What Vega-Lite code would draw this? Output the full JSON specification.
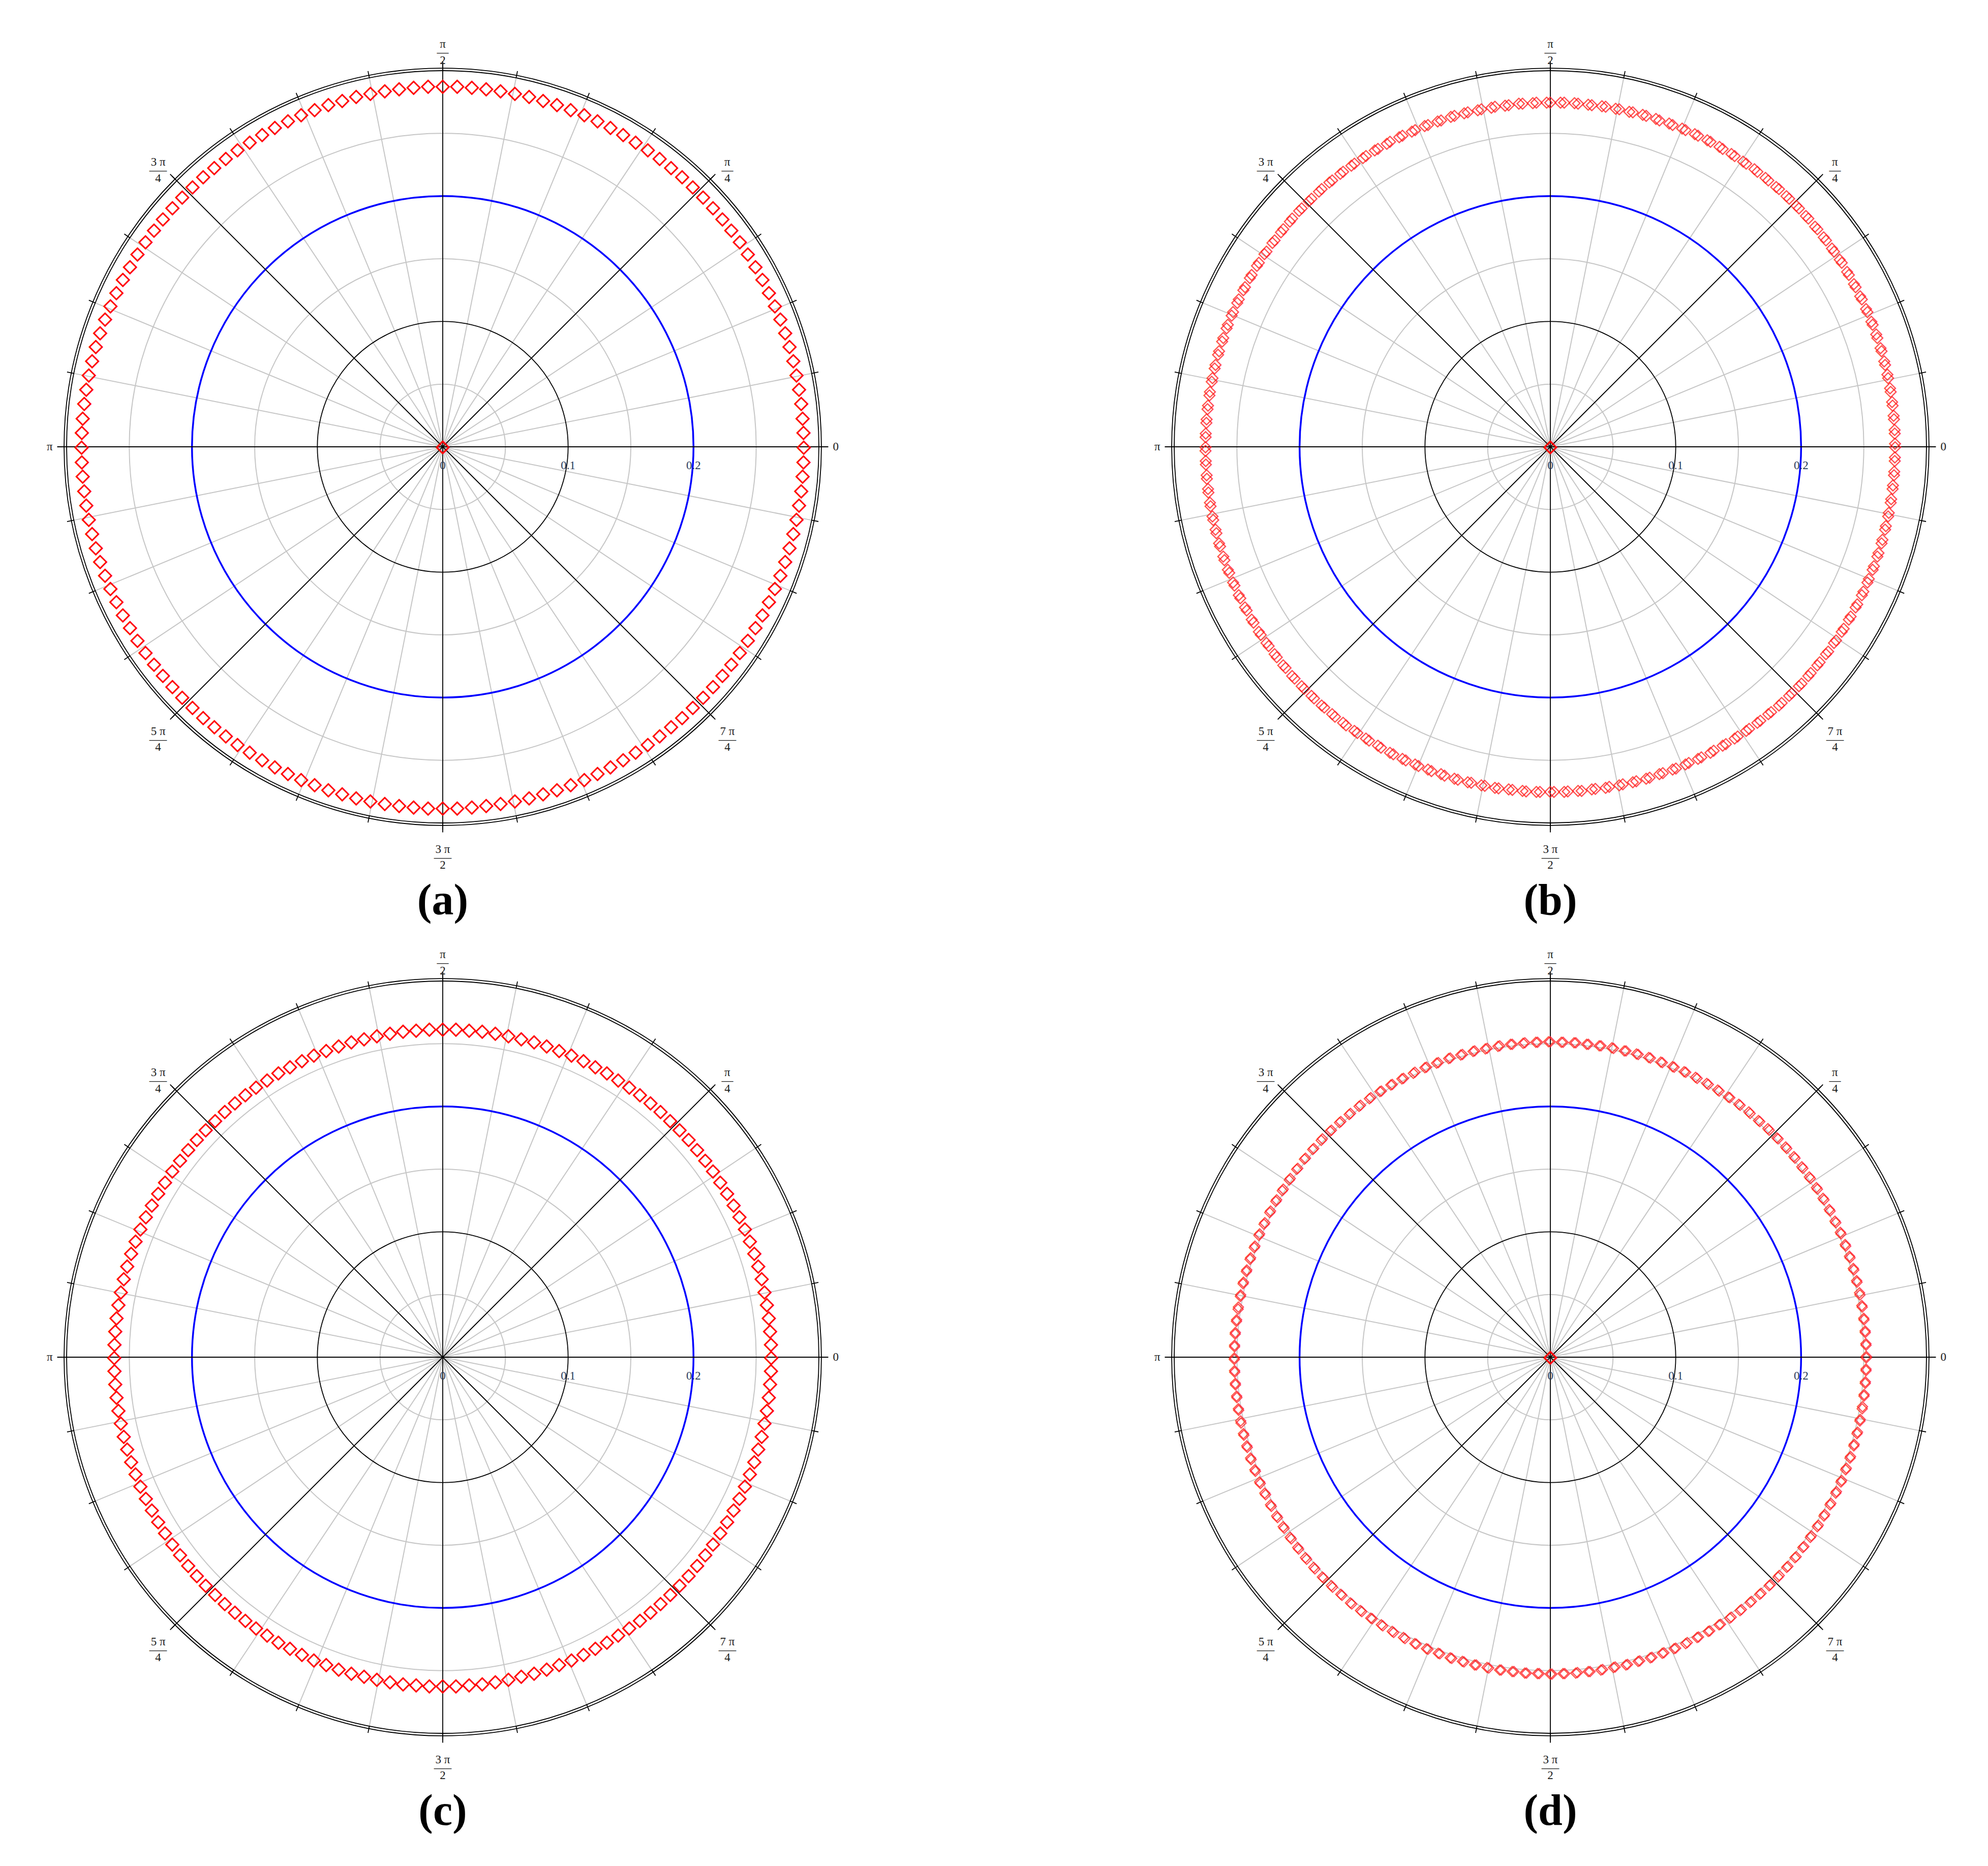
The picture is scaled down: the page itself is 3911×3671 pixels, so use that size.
{
"$schema": "https://vega.github.io/schema/vega-lite/v6.json",
"padding": 0,
"background": "white",
"config": {"view": {"stroke": null}, "title": {"orient": "bottom", "frame": "group", "anchor": "middle", "offset": -27, "font": "Liberation Serif", "fontSize": 86, "fontWeight": "bold", "color": "#000000"}},
"datasets": {
"gc": [{"r":0.05},{"r":0.15},{"r":0.25}],
"bc": [{"r":0.1},{"r":0.2},{"r":0.3},{"r":0.302}],
"blue": [{"r":0.2}],
"g32": [{"t":0},{"t":11.25},{"t":22.5},{"t":33.75},{"t":45},{"t":56.25},{"t":67.5},{"t":78.75},{"t":90},{"t":101.25},{"t":112.5},{"t":123.75},{"t":135},{"t":146.25},{"t":157.5},{"t":168.75},{"t":180},{"t":191.25},{"t":202.5},{"t":213.75},{"t":225},{"t":236.25},{"t":247.5},{"t":258.75},{"t":270},{"t":281.25},{"t":292.5},{"t":303.75},{"t":315},{"t":326.25},{"t":337.5},{"t":348.75}],
"ax8": [{"t":0},{"t":45},{"t":90},{"t":135},{"t":180},{"t":225},{"t":270},{"t":315}],
"flab": [{"t":45,"lab":"π\n—\n4"},{"t":90,"lab":"π\n—\n2"},{"t":135,"lab":"3 π\n—–\n4"},{"t":225,"lab":"5 π\n—–\n4"},{"t":270,"lab":"3 π\n—–\n2"},{"t":315,"lab":"7 π\n—–\n4"}],
"plab": [{"t":0,"lab":"0"},{"t":180,"lab":"π"}],
"rlab": [{"r":0,"lab":"0"},{"r":0.1,"lab":"0.1"},{"r":0.2,"lab":"0.2"}],
"ctr": [{"t":0,"r":0}],
"ring": [
{"t":0,"u":0.6,"v":0.3,"a":0.288,"b":0.275,"c":0.262,"d":0.252},
{"t":2.31,"u":2.91,"v":2.61,"a":0.288,"b":0.275,"c":0.262,"d":0.252},
{"t":4.62,"u":5.22,"v":4.92,"a":0.288,"b":0.275,"c":0.262,"d":0.252},
{"t":6.92,"u":7.52,"v":7.22,"a":0.288,"b":0.275,"c":0.262,"d":0.252},
{"t":9.23,"u":9.83,"v":9.53,"a":0.288,"b":0.275,"c":0.262,"d":0.252},
{"t":11.54,"u":12.14,"v":11.84,"a":0.288,"b":0.275,"c":0.262,"d":0.252},
{"t":13.85,"u":14.45,"v":14.15,"a":0.288,"b":0.275,"c":0.262,"d":0.252},
{"t":16.15,"u":16.75,"v":16.45,"a":0.288,"b":0.275,"c":0.262,"d":0.252},
{"t":18.46,"u":19.06,"v":18.76,"a":0.288,"b":0.275,"c":0.262,"d":0.252},
{"t":20.77,"u":21.37,"v":21.07,"a":0.288,"b":0.275,"c":0.262,"d":0.252},
{"t":23.08,"u":23.68,"v":23.38,"a":0.288,"b":0.275,"c":0.262,"d":0.252},
{"t":25.38,"u":25.98,"v":25.68,"a":0.288,"b":0.275,"c":0.262,"d":0.252},
{"t":27.69,"u":28.29,"v":27.99,"a":0.288,"b":0.275,"c":0.262,"d":0.252},
{"t":30,"u":30.6,"v":30.3,"a":0.288,"b":0.275,"c":0.262,"d":0.252},
{"t":32.31,"u":32.91,"v":32.61,"a":0.288,"b":0.275,"c":0.262,"d":0.252},
{"t":34.62,"u":35.22,"v":34.92,"a":0.288,"b":0.275,"c":0.262,"d":0.252},
{"t":36.92,"u":37.52,"v":37.22,"a":0.288,"b":0.275,"c":0.262,"d":0.252},
{"t":39.23,"u":39.83,"v":39.53,"a":0.288,"b":0.275,"c":0.262,"d":0.252},
{"t":41.54,"u":42.14,"v":41.84,"a":0.288,"b":0.275,"c":0.262,"d":0.252},
{"t":43.85,"u":44.45,"v":44.15,"a":0.288,"b":0.275,"c":0.262,"d":0.252},
{"t":46.15,"u":46.75,"v":46.45,"a":0.288,"b":0.275,"c":0.262,"d":0.252},
{"t":48.46,"u":49.06,"v":48.76,"a":0.288,"b":0.275,"c":0.262,"d":0.252},
{"t":50.77,"u":51.37,"v":51.07,"a":0.288,"b":0.275,"c":0.262,"d":0.252},
{"t":53.08,"u":53.68,"v":53.38,"a":0.288,"b":0.275,"c":0.262,"d":0.252},
{"t":55.38,"u":55.98,"v":55.68,"a":0.288,"b":0.275,"c":0.262,"d":0.252},
{"t":57.69,"u":58.29,"v":57.99,"a":0.288,"b":0.275,"c":0.262,"d":0.252},
{"t":60,"u":60.6,"v":60.3,"a":0.288,"b":0.275,"c":0.262,"d":0.252},
{"t":62.31,"u":62.91,"v":62.61,"a":0.288,"b":0.275,"c":0.262,"d":0.252},
{"t":64.62,"u":65.22,"v":64.92,"a":0.288,"b":0.275,"c":0.262,"d":0.252},
{"t":66.92,"u":67.52,"v":67.22,"a":0.288,"b":0.275,"c":0.262,"d":0.252},
{"t":69.23,"u":69.83,"v":69.53,"a":0.288,"b":0.275,"c":0.262,"d":0.252},
{"t":71.54,"u":72.14,"v":71.84,"a":0.288,"b":0.275,"c":0.262,"d":0.252},
{"t":73.85,"u":74.45,"v":74.15,"a":0.288,"b":0.275,"c":0.262,"d":0.252},
{"t":76.15,"u":76.75,"v":76.45,"a":0.288,"b":0.275,"c":0.262,"d":0.252},
{"t":78.46,"u":79.06,"v":78.76,"a":0.288,"b":0.275,"c":0.262,"d":0.252},
{"t":80.77,"u":81.37,"v":81.07,"a":0.288,"b":0.275,"c":0.262,"d":0.252},
{"t":83.08,"u":83.68,"v":83.38,"a":0.288,"b":0.275,"c":0.262,"d":0.252},
{"t":85.38,"u":85.98,"v":85.68,"a":0.288,"b":0.275,"c":0.262,"d":0.252},
{"t":87.69,"u":88.29,"v":87.99,"a":0.288,"b":0.275,"c":0.262,"d":0.252},
{"t":90,"u":90.6,"v":90.3,"a":0.288,"b":0.275,"c":0.262,"d":0.252},
{"t":92.31,"u":92.91,"v":92.61,"a":0.288,"b":0.275,"c":0.262,"d":0.252},
{"t":94.62,"u":95.22,"v":94.92,"a":0.288,"b":0.275,"c":0.262,"d":0.252},
{"t":96.92,"u":97.52,"v":97.22,"a":0.288,"b":0.275,"c":0.262,"d":0.252},
{"t":99.23,"u":99.83,"v":99.53,"a":0.288,"b":0.275,"c":0.262,"d":0.252},
{"t":101.54,"u":102.14,"v":101.84,"a":0.288,"b":0.275,"c":0.262,"d":0.252},
{"t":103.85,"u":104.45,"v":104.15,"a":0.288,"b":0.275,"c":0.262,"d":0.252},
{"t":106.15,"u":106.75,"v":106.45,"a":0.288,"b":0.275,"c":0.262,"d":0.252},
{"t":108.46,"u":109.06,"v":108.76,"a":0.288,"b":0.275,"c":0.262,"d":0.252},
{"t":110.77,"u":111.37,"v":111.07,"a":0.288,"b":0.275,"c":0.262,"d":0.252},
{"t":113.08,"u":113.68,"v":113.38,"a":0.288,"b":0.275,"c":0.262,"d":0.252},
{"t":115.38,"u":115.98,"v":115.68,"a":0.288,"b":0.275,"c":0.262,"d":0.252},
{"t":117.69,"u":118.29,"v":117.99,"a":0.288,"b":0.275,"c":0.262,"d":0.252},
{"t":120,"u":120.6,"v":120.3,"a":0.288,"b":0.275,"c":0.262,"d":0.252},
{"t":122.31,"u":122.91,"v":122.61,"a":0.288,"b":0.275,"c":0.262,"d":0.252},
{"t":124.62,"u":125.22,"v":124.92,"a":0.288,"b":0.275,"c":0.262,"d":0.252},
{"t":126.92,"u":127.52,"v":127.22,"a":0.288,"b":0.275,"c":0.262,"d":0.252},
{"t":129.23,"u":129.83,"v":129.53,"a":0.288,"b":0.275,"c":0.262,"d":0.252},
{"t":131.54,"u":132.14,"v":131.84,"a":0.288,"b":0.275,"c":0.262,"d":0.252},
{"t":133.85,"u":134.45,"v":134.15,"a":0.288,"b":0.275,"c":0.262,"d":0.252},
{"t":136.15,"u":136.75,"v":136.45,"a":0.288,"b":0.275,"c":0.262,"d":0.252},
{"t":138.46,"u":139.06,"v":138.76,"a":0.288,"b":0.275,"c":0.262,"d":0.252},
{"t":140.77,"u":141.37,"v":141.07,"a":0.288,"b":0.275,"c":0.262,"d":0.252},
{"t":143.08,"u":143.68,"v":143.38,"a":0.288,"b":0.275,"c":0.262,"d":0.252},
{"t":145.38,"u":145.98,"v":145.68,"a":0.288,"b":0.275,"c":0.262,"d":0.252},
{"t":147.69,"u":148.29,"v":147.99,"a":0.288,"b":0.275,"c":0.262,"d":0.252},
{"t":150,"u":150.6,"v":150.3,"a":0.288,"b":0.275,"c":0.262,"d":0.252},
{"t":152.31,"u":152.91,"v":152.61,"a":0.288,"b":0.275,"c":0.262,"d":0.252},
{"t":154.62,"u":155.22,"v":154.92,"a":0.288,"b":0.275,"c":0.262,"d":0.252},
{"t":156.92,"u":157.52,"v":157.22,"a":0.288,"b":0.275,"c":0.262,"d":0.252},
{"t":159.23,"u":159.83,"v":159.53,"a":0.288,"b":0.275,"c":0.262,"d":0.252},
{"t":161.54,"u":162.14,"v":161.84,"a":0.288,"b":0.275,"c":0.262,"d":0.252},
{"t":163.85,"u":164.45,"v":164.15,"a":0.288,"b":0.275,"c":0.262,"d":0.252},
{"t":166.15,"u":166.75,"v":166.45,"a":0.288,"b":0.275,"c":0.262,"d":0.252},
{"t":168.46,"u":169.06,"v":168.76,"a":0.288,"b":0.275,"c":0.262,"d":0.252},
{"t":170.77,"u":171.37,"v":171.07,"a":0.288,"b":0.275,"c":0.262,"d":0.252},
{"t":173.08,"u":173.68,"v":173.38,"a":0.288,"b":0.275,"c":0.262,"d":0.252},
{"t":175.38,"u":175.98,"v":175.68,"a":0.288,"b":0.275,"c":0.262,"d":0.252},
{"t":177.69,"u":178.29,"v":177.99,"a":0.288,"b":0.275,"c":0.262,"d":0.252},
{"t":180,"u":180.6,"v":180.3,"a":0.288,"b":0.275,"c":0.262,"d":0.252},
{"t":182.31,"u":182.91,"v":182.61,"a":0.288,"b":0.275,"c":0.262,"d":0.252},
{"t":184.62,"u":185.22,"v":184.92,"a":0.288,"b":0.275,"c":0.262,"d":0.252},
{"t":186.92,"u":187.52,"v":187.22,"a":0.288,"b":0.275,"c":0.262,"d":0.252},
{"t":189.23,"u":189.83,"v":189.53,"a":0.288,"b":0.275,"c":0.262,"d":0.252},
{"t":191.54,"u":192.14,"v":191.84,"a":0.288,"b":0.275,"c":0.262,"d":0.252},
{"t":193.85,"u":194.45,"v":194.15,"a":0.288,"b":0.275,"c":0.262,"d":0.252},
{"t":196.15,"u":196.75,"v":196.45,"a":0.288,"b":0.275,"c":0.262,"d":0.252},
{"t":198.46,"u":199.06,"v":198.76,"a":0.288,"b":0.275,"c":0.262,"d":0.252},
{"t":200.77,"u":201.37,"v":201.07,"a":0.288,"b":0.275,"c":0.262,"d":0.252},
{"t":203.08,"u":203.68,"v":203.38,"a":0.288,"b":0.275,"c":0.262,"d":0.252},
{"t":205.38,"u":205.98,"v":205.68,"a":0.288,"b":0.275,"c":0.262,"d":0.252},
{"t":207.69,"u":208.29,"v":207.99,"a":0.288,"b":0.275,"c":0.262,"d":0.252},
{"t":210,"u":210.6,"v":210.3,"a":0.288,"b":0.275,"c":0.262,"d":0.252},
{"t":212.31,"u":212.91,"v":212.61,"a":0.288,"b":0.275,"c":0.262,"d":0.252},
{"t":214.62,"u":215.22,"v":214.92,"a":0.288,"b":0.275,"c":0.262,"d":0.252},
{"t":216.92,"u":217.52,"v":217.22,"a":0.288,"b":0.275,"c":0.262,"d":0.252},
{"t":219.23,"u":219.83,"v":219.53,"a":0.288,"b":0.275,"c":0.262,"d":0.252},
{"t":221.54,"u":222.14,"v":221.84,"a":0.288,"b":0.275,"c":0.262,"d":0.252},
{"t":223.85,"u":224.45,"v":224.15,"a":0.288,"b":0.275,"c":0.262,"d":0.252},
{"t":226.15,"u":226.75,"v":226.45,"a":0.288,"b":0.275,"c":0.262,"d":0.252},
{"t":228.46,"u":229.06,"v":228.76,"a":0.288,"b":0.275,"c":0.262,"d":0.252},
{"t":230.77,"u":231.37,"v":231.07,"a":0.288,"b":0.275,"c":0.262,"d":0.252},
{"t":233.08,"u":233.68,"v":233.38,"a":0.288,"b":0.275,"c":0.262,"d":0.252},
{"t":235.38,"u":235.98,"v":235.68,"a":0.288,"b":0.275,"c":0.262,"d":0.252},
{"t":237.69,"u":238.29,"v":237.99,"a":0.288,"b":0.275,"c":0.262,"d":0.252},
{"t":240,"u":240.6,"v":240.3,"a":0.288,"b":0.275,"c":0.262,"d":0.252},
{"t":242.31,"u":242.91,"v":242.61,"a":0.288,"b":0.275,"c":0.262,"d":0.252},
{"t":244.62,"u":245.22,"v":244.92,"a":0.288,"b":0.275,"c":0.262,"d":0.252},
{"t":246.92,"u":247.52,"v":247.22,"a":0.288,"b":0.275,"c":0.262,"d":0.252},
{"t":249.23,"u":249.83,"v":249.53,"a":0.288,"b":0.275,"c":0.262,"d":0.252},
{"t":251.54,"u":252.14,"v":251.84,"a":0.288,"b":0.275,"c":0.262,"d":0.252},
{"t":253.85,"u":254.45,"v":254.15,"a":0.288,"b":0.275,"c":0.262,"d":0.252},
{"t":256.15,"u":256.75,"v":256.45,"a":0.288,"b":0.275,"c":0.262,"d":0.252},
{"t":258.46,"u":259.06,"v":258.76,"a":0.288,"b":0.275,"c":0.262,"d":0.252},
{"t":260.77,"u":261.37,"v":261.07,"a":0.288,"b":0.275,"c":0.262,"d":0.252},
{"t":263.08,"u":263.68,"v":263.38,"a":0.288,"b":0.275,"c":0.262,"d":0.252},
{"t":265.38,"u":265.98,"v":265.68,"a":0.288,"b":0.275,"c":0.262,"d":0.252},
{"t":267.69,"u":268.29,"v":267.99,"a":0.288,"b":0.275,"c":0.262,"d":0.252},
{"t":270,"u":270.6,"v":270.3,"a":0.288,"b":0.275,"c":0.262,"d":0.252},
{"t":272.31,"u":272.91,"v":272.61,"a":0.288,"b":0.275,"c":0.262,"d":0.252},
{"t":274.62,"u":275.22,"v":274.92,"a":0.288,"b":0.275,"c":0.262,"d":0.252},
{"t":276.92,"u":277.52,"v":277.22,"a":0.288,"b":0.275,"c":0.262,"d":0.252},
{"t":279.23,"u":279.83,"v":279.53,"a":0.288,"b":0.275,"c":0.262,"d":0.252},
{"t":281.54,"u":282.14,"v":281.84,"a":0.288,"b":0.275,"c":0.262,"d":0.252},
{"t":283.85,"u":284.45,"v":284.15,"a":0.288,"b":0.275,"c":0.262,"d":0.252},
{"t":286.15,"u":286.75,"v":286.45,"a":0.288,"b":0.275,"c":0.262,"d":0.252},
{"t":288.46,"u":289.06,"v":288.76,"a":0.288,"b":0.275,"c":0.262,"d":0.252},
{"t":290.77,"u":291.37,"v":291.07,"a":0.288,"b":0.275,"c":0.262,"d":0.252},
{"t":293.08,"u":293.68,"v":293.38,"a":0.288,"b":0.275,"c":0.262,"d":0.252},
{"t":295.38,"u":295.98,"v":295.68,"a":0.288,"b":0.275,"c":0.262,"d":0.252},
{"t":297.69,"u":298.29,"v":297.99,"a":0.288,"b":0.275,"c":0.262,"d":0.252},
{"t":300,"u":300.6,"v":300.3,"a":0.288,"b":0.275,"c":0.262,"d":0.252},
{"t":302.31,"u":302.91,"v":302.61,"a":0.288,"b":0.275,"c":0.262,"d":0.252},
{"t":304.62,"u":305.22,"v":304.92,"a":0.288,"b":0.275,"c":0.262,"d":0.252},
{"t":306.92,"u":307.52,"v":307.22,"a":0.288,"b":0.275,"c":0.262,"d":0.252},
{"t":309.23,"u":309.83,"v":309.53,"a":0.288,"b":0.275,"c":0.262,"d":0.252},
{"t":311.54,"u":312.14,"v":311.84,"a":0.288,"b":0.275,"c":0.262,"d":0.252},
{"t":313.85,"u":314.45,"v":314.15,"a":0.288,"b":0.275,"c":0.262,"d":0.252},
{"t":316.15,"u":316.75,"v":316.45,"a":0.288,"b":0.275,"c":0.262,"d":0.252},
{"t":318.46,"u":319.06,"v":318.76,"a":0.288,"b":0.275,"c":0.262,"d":0.252},
{"t":320.77,"u":321.37,"v":321.07,"a":0.288,"b":0.275,"c":0.262,"d":0.252},
{"t":323.08,"u":323.68,"v":323.38,"a":0.288,"b":0.275,"c":0.262,"d":0.252},
{"t":325.38,"u":325.98,"v":325.68,"a":0.288,"b":0.275,"c":0.262,"d":0.252},
{"t":327.69,"u":328.29,"v":327.99,"a":0.288,"b":0.275,"c":0.262,"d":0.252},
{"t":330,"u":330.6,"v":330.3,"a":0.288,"b":0.275,"c":0.262,"d":0.252},
{"t":332.31,"u":332.91,"v":332.61,"a":0.288,"b":0.275,"c":0.262,"d":0.252},
{"t":334.62,"u":335.22,"v":334.92,"a":0.288,"b":0.275,"c":0.262,"d":0.252},
{"t":336.92,"u":337.52,"v":337.22,"a":0.288,"b":0.275,"c":0.262,"d":0.252},
{"t":339.23,"u":339.83,"v":339.53,"a":0.288,"b":0.275,"c":0.262,"d":0.252},
{"t":341.54,"u":342.14,"v":341.84,"a":0.288,"b":0.275,"c":0.262,"d":0.252},
{"t":343.85,"u":344.45,"v":344.15,"a":0.288,"b":0.275,"c":0.262,"d":0.252},
{"t":346.15,"u":346.75,"v":346.45,"a":0.288,"b":0.275,"c":0.262,"d":0.252},
{"t":348.46,"u":349.06,"v":348.76,"a":0.288,"b":0.275,"c":0.262,"d":0.252},
{"t":350.77,"u":351.37,"v":351.07,"a":0.288,"b":0.275,"c":0.262,"d":0.252},
{"t":353.08,"u":353.68,"v":353.38,"a":0.288,"b":0.275,"c":0.262,"d":0.252},
{"t":355.38,"u":355.98,"v":355.68,"a":0.288,"b":0.275,"c":0.262,"d":0.252},
{"t":357.69,"u":358.29,"v":357.99,"a":0.288,"b":0.275,"c":0.262,"d":0.252}
]
},
"columns": 2,
"bounds": "flush",
"spacing": {"row": 33, "column": 458},
"concat": [
{"width": 1742, "height": 1758, "title": {"text": "(a)", "font": "Liberation Serif", "fontWeight": "bold"},
 "layer": [
  {"data": {"name": "gc"}, "mark": {"type": "arc", "filled": false, "stroke": "#c6c6c6", "strokeWidth": 2, "theta": 0, "theta2": 6.2832}, "encoding": {"radius": {"field": "r", "type": "quantitative", "stack": null, "scale": {"type": "linear", "domain": [0, 0.3], "range": [0, 740], "nice": false, "zero": true}}}},
  {"data": {"name": "g32"}, "mark": {"type": "arc", "filled": false, "stroke": "#c6c6c6", "strokeWidth": 2}, "encoding": {"theta": {"field": "t", "type": "quantitative", "stack": null, "scale": {"type": "linear", "domain": [0, 360], "range": [1.5708, -4.7124], "nice": false, "zero": false}}, "theta2": {"field": "t"}, "radius": {"datum": 0.3, "type": "quantitative", "scale": {"type": "linear", "domain": [0, 0.3], "range": [0, 740], "nice": false, "zero": true}}}},
  {"data": {"name": "bc"}, "mark": {"type": "arc", "filled": false, "stroke": "#000000", "strokeWidth": 1.8, "theta": 0, "theta2": 6.2832}, "encoding": {"radius": {"field": "r", "type": "quantitative", "stack": null, "scale": {"type": "linear", "domain": [0, 0.3], "range": [0, 740], "nice": false, "zero": true}}}},
  {"data": {"name": "blue"}, "mark": {"type": "arc", "filled": false, "stroke": "#0000ff", "strokeWidth": 3.5, "theta": 0, "theta2": 6.2832}, "encoding": {"radius": {"field": "r", "type": "quantitative", "stack": null, "scale": {"type": "linear", "domain": [0, 0.3], "range": [0, 740], "nice": false, "zero": true}}}},
  {"data": {"name": "g32"}, "mark": {"type": "arc", "filled": false, "stroke": "#000000", "strokeWidth": 1.8}, "encoding": {"theta": {"field": "t", "type": "quantitative", "stack": null, "scale": {"type": "linear", "domain": [0, 360], "range": [1.5708, -4.7124], "nice": false, "zero": false}}, "theta2": {"field": "t"}, "radius": {"datum": 0.3055, "type": "quantitative", "scale": {"type": "linear", "domain": [0, 0.3], "range": [0, 740], "nice": false, "zero": true}}, "radius2": {"datum": 0.3}}},
  {"data": {"name": "ax8"}, "mark": {"type": "arc", "filled": false, "stroke": "#000000", "strokeWidth": 1.8}, "encoding": {"theta": {"field": "t", "type": "quantitative", "stack": null, "scale": {"type": "linear", "domain": [0, 360], "range": [1.5708, -4.7124], "nice": false, "zero": false}}, "theta2": {"field": "t"}, "radius": {"datum": 0.3075, "type": "quantitative", "scale": {"type": "linear", "domain": [0, 0.3], "range": [0, 740], "nice": false, "zero": true}}}},
  {"data": {"name": "flab"}, "mark": {"type": "text", "font": "Liberation Serif", "fontSize": 23, "lineHeight": 15.7, "lineBreak": "\n", "align": "center", "baseline": "middle", "color": "#1a1a1a"}, "encoding": {"theta": {"field": "t", "type": "quantitative", "stack": null, "scale": {"type": "linear", "domain": [0, 360], "range": [1.5708, -4.7124], "nice": false, "zero": false}}, "radius": {"datum": 0.321, "type": "quantitative", "scale": {"type": "linear", "domain": [0, 0.3], "range": [0, 740], "nice": false, "zero": true}}, "text": {"field": "lab"}}},
  {"data": {"name": "plab"}, "mark": {"type": "text", "font": "Liberation Serif", "fontSize": 23, "align": "center", "baseline": "middle", "color": "#1a1a1a"}, "encoding": {"theta": {"field": "t", "type": "quantitative", "stack": null, "scale": {"type": "linear", "domain": [0, 360], "range": [1.5708, -4.7124], "nice": false, "zero": false}}, "radius": {"datum": 0.3135, "type": "quantitative", "scale": {"type": "linear", "domain": [0, 0.3], "range": [0, 740], "nice": false, "zero": true}}, "text": {"field": "lab"}}},
  {"data": {"name": "rlab"}, "mark": {"type": "text", "font": "Liberation Serif", "fontSize": 23, "align": "center", "baseline": "middle", "dy": 37, "color": "#2a3a5a"}, "encoding": {"theta": {"datum": 0, "type": "quantitative", "scale": {"type": "linear", "domain": [0, 360], "range": [1.5708, -4.7124], "nice": false, "zero": false}}, "radius": {"field": "r", "type": "quantitative", "stack": null, "scale": {"type": "linear", "domain": [0, 0.3], "range": [0, 740], "nice": false, "zero": true}}, "text": {"field": "lab"}}},
  {"data": {"name": "ring"}, "mark": {"type": "text", "text": "◇", "font": "DejaVu Sans", "fontSize": 36, "fill": "#ff0000", "stroke": "#ff0000", "strokeWidth": 1, "align": "center", "baseline": "middle"}, "encoding": {"theta": {"field": "t", "type": "quantitative", "stack": null, "scale": {"type": "linear", "domain": [0, 360], "range": [1.5708, -4.7124], "nice": false, "zero": false}}, "radius": {"field": "a", "type": "quantitative", "stack": null, "scale": {"type": "linear", "domain": [0, 0.3], "range": [0, 740], "nice": false, "zero": true}}}},
  {"data": {"name": "ctr"}, "mark": {"type": "text", "text": "◇", "font": "DejaVu Sans", "fontSize": 34, "fill": "#ff0000", "stroke": "#ff0000", "strokeWidth": 1.5, "align": "center", "baseline": "middle"}, "encoding": {"theta": {"field": "t", "type": "quantitative", "stack": null, "scale": {"type": "linear", "domain": [0, 360], "range": [1.5708, -4.7124], "nice": false, "zero": false}}, "radius": {"field": "r", "type": "quantitative", "stack": null, "scale": {"type": "linear", "domain": [0, 0.3], "range": [0, 740], "nice": false, "zero": true}}}}
 ]},
{"width": 1700, "height": 1758, "title": {"text": "(b)", "font": "Liberation Serif", "fontWeight": "bold"},
 "layer": [
  {"data": {"name": "gc"}, "mark": {"type": "arc", "filled": false, "stroke": "#c6c6c6", "strokeWidth": 2, "theta": 0, "theta2": 6.2832}, "encoding": {"radius": {"field": "r", "type": "quantitative", "stack": null, "scale": {"type": "linear", "domain": [0, 0.3], "range": [0, 740], "nice": false, "zero": true}}}},
  {"data": {"name": "g32"}, "mark": {"type": "arc", "filled": false, "stroke": "#c6c6c6", "strokeWidth": 2}, "encoding": {"theta": {"field": "t", "type": "quantitative", "stack": null, "scale": {"type": "linear", "domain": [0, 360], "range": [1.5708, -4.7124], "nice": false, "zero": false}}, "theta2": {"field": "t"}, "radius": {"datum": 0.3, "type": "quantitative", "scale": {"type": "linear", "domain": [0, 0.3], "range": [0, 740], "nice": false, "zero": true}}}},
  {"data": {"name": "bc"}, "mark": {"type": "arc", "filled": false, "stroke": "#000000", "strokeWidth": 1.8, "theta": 0, "theta2": 6.2832}, "encoding": {"radius": {"field": "r", "type": "quantitative", "stack": null, "scale": {"type": "linear", "domain": [0, 0.3], "range": [0, 740], "nice": false, "zero": true}}}},
  {"data": {"name": "blue"}, "mark": {"type": "arc", "filled": false, "stroke": "#0000ff", "strokeWidth": 3.5, "theta": 0, "theta2": 6.2832}, "encoding": {"radius": {"field": "r", "type": "quantitative", "stack": null, "scale": {"type": "linear", "domain": [0, 0.3], "range": [0, 740], "nice": false, "zero": true}}}},
  {"data": {"name": "g32"}, "mark": {"type": "arc", "filled": false, "stroke": "#000000", "strokeWidth": 1.8}, "encoding": {"theta": {"field": "t", "type": "quantitative", "stack": null, "scale": {"type": "linear", "domain": [0, 360], "range": [1.5708, -4.7124], "nice": false, "zero": false}}, "theta2": {"field": "t"}, "radius": {"datum": 0.3055, "type": "quantitative", "scale": {"type": "linear", "domain": [0, 0.3], "range": [0, 740], "nice": false, "zero": true}}, "radius2": {"datum": 0.3}}},
  {"data": {"name": "ax8"}, "mark": {"type": "arc", "filled": false, "stroke": "#000000", "strokeWidth": 1.8}, "encoding": {"theta": {"field": "t", "type": "quantitative", "stack": null, "scale": {"type": "linear", "domain": [0, 360], "range": [1.5708, -4.7124], "nice": false, "zero": false}}, "theta2": {"field": "t"}, "radius": {"datum": 0.3075, "type": "quantitative", "scale": {"type": "linear", "domain": [0, 0.3], "range": [0, 740], "nice": false, "zero": true}}}},
  {"data": {"name": "flab"}, "mark": {"type": "text", "font": "Liberation Serif", "fontSize": 23, "lineHeight": 15.7, "lineBreak": "\n", "align": "center", "baseline": "middle", "color": "#1a1a1a"}, "encoding": {"theta": {"field": "t", "type": "quantitative", "stack": null, "scale": {"type": "linear", "domain": [0, 360], "range": [1.5708, -4.7124], "nice": false, "zero": false}}, "radius": {"datum": 0.321, "type": "quantitative", "scale": {"type": "linear", "domain": [0, 0.3], "range": [0, 740], "nice": false, "zero": true}}, "text": {"field": "lab"}}},
  {"data": {"name": "plab"}, "mark": {"type": "text", "font": "Liberation Serif", "fontSize": 23, "align": "center", "baseline": "middle", "color": "#1a1a1a"}, "encoding": {"theta": {"field": "t", "type": "quantitative", "stack": null, "scale": {"type": "linear", "domain": [0, 360], "range": [1.5708, -4.7124], "nice": false, "zero": false}}, "radius": {"datum": 0.3135, "type": "quantitative", "scale": {"type": "linear", "domain": [0, 0.3], "range": [0, 740], "nice": false, "zero": true}}, "text": {"field": "lab"}}},
  {"data": {"name": "rlab"}, "mark": {"type": "text", "font": "Liberation Serif", "fontSize": 23, "align": "center", "baseline": "middle", "dy": 37, "color": "#2a3a5a"}, "encoding": {"theta": {"datum": 0, "type": "quantitative", "scale": {"type": "linear", "domain": [0, 360], "range": [1.5708, -4.7124], "nice": false, "zero": false}}, "radius": {"field": "r", "type": "quantitative", "stack": null, "scale": {"type": "linear", "domain": [0, 0.3], "range": [0, 740], "nice": false, "zero": true}}, "text": {"field": "lab"}}},
  {"data": {"name": "ring"}, "mark": {"type": "text", "text": "◇", "font": "DejaVu Sans", "fontSize": 31, "fill": "#ff2020", "stroke": "#ff2020", "strokeWidth": 0.6, "opacity": 0.8, "align": "center", "baseline": "middle"}, "encoding": {"theta": {"field": "t", "type": "quantitative", "stack": null, "scale": {"type": "linear", "domain": [0, 360], "range": [1.5708, -4.7124], "nice": false, "zero": false}}, "radius": {"field": "b", "type": "quantitative", "stack": null, "scale": {"type": "linear", "domain": [0, 0.3], "range": [0, 740], "nice": false, "zero": true}}}},
  {"data": {"name": "ring"}, "mark": {"type": "text", "text": "◇", "font": "DejaVu Sans", "fontSize": 31, "fill": "#ff2020", "stroke": "#ff2020", "strokeWidth": 0.6, "opacity": 0.8, "align": "center", "baseline": "middle"}, "encoding": {"theta": {"field": "u", "type": "quantitative", "stack": null, "scale": {"type": "linear", "domain": [0, 360], "range": [1.5708, -4.7124], "nice": false, "zero": false}}, "radius": {"field": "b", "type": "quantitative", "stack": null, "scale": {"type": "linear", "domain": [0, 0.3], "range": [0, 740], "nice": false, "zero": true}}}},
  {"data": {"name": "ctr"}, "mark": {"type": "text", "text": "◇", "font": "DejaVu Sans", "fontSize": 34, "fill": "#ff0000", "stroke": "#ff0000", "strokeWidth": 1.5, "align": "center", "baseline": "middle"}, "encoding": {"theta": {"field": "t", "type": "quantitative", "stack": null, "scale": {"type": "linear", "domain": [0, 360], "range": [1.5708, -4.7124], "nice": false, "zero": false}}, "radius": {"field": "r", "type": "quantitative", "stack": null, "scale": {"type": "linear", "domain": [0, 0.3], "range": [0, 740], "nice": false, "zero": true}}}}
 ]},
{"width": 1742, "height": 1758, "title": {"text": "(c)", "font": "Liberation Serif", "fontWeight": "bold"},
 "layer": [
  {"data": {"name": "gc"}, "mark": {"type": "arc", "filled": false, "stroke": "#c6c6c6", "strokeWidth": 2, "theta": 0, "theta2": 6.2832}, "encoding": {"radius": {"field": "r", "type": "quantitative", "stack": null, "scale": {"type": "linear", "domain": [0, 0.3], "range": [0, 740], "nice": false, "zero": true}}}},
  {"data": {"name": "g32"}, "mark": {"type": "arc", "filled": false, "stroke": "#c6c6c6", "strokeWidth": 2}, "encoding": {"theta": {"field": "t", "type": "quantitative", "stack": null, "scale": {"type": "linear", "domain": [0, 360], "range": [1.5708, -4.7124], "nice": false, "zero": false}}, "theta2": {"field": "t"}, "radius": {"datum": 0.3, "type": "quantitative", "scale": {"type": "linear", "domain": [0, 0.3], "range": [0, 740], "nice": false, "zero": true}}}},
  {"data": {"name": "bc"}, "mark": {"type": "arc", "filled": false, "stroke": "#000000", "strokeWidth": 1.8, "theta": 0, "theta2": 6.2832}, "encoding": {"radius": {"field": "r", "type": "quantitative", "stack": null, "scale": {"type": "linear", "domain": [0, 0.3], "range": [0, 740], "nice": false, "zero": true}}}},
  {"data": {"name": "blue"}, "mark": {"type": "arc", "filled": false, "stroke": "#0000ff", "strokeWidth": 3.5, "theta": 0, "theta2": 6.2832}, "encoding": {"radius": {"field": "r", "type": "quantitative", "stack": null, "scale": {"type": "linear", "domain": [0, 0.3], "range": [0, 740], "nice": false, "zero": true}}}},
  {"data": {"name": "g32"}, "mark": {"type": "arc", "filled": false, "stroke": "#000000", "strokeWidth": 1.8}, "encoding": {"theta": {"field": "t", "type": "quantitative", "stack": null, "scale": {"type": "linear", "domain": [0, 360], "range": [1.5708, -4.7124], "nice": false, "zero": false}}, "theta2": {"field": "t"}, "radius": {"datum": 0.3055, "type": "quantitative", "scale": {"type": "linear", "domain": [0, 0.3], "range": [0, 740], "nice": false, "zero": true}}, "radius2": {"datum": 0.3}}},
  {"data": {"name": "ax8"}, "mark": {"type": "arc", "filled": false, "stroke": "#000000", "strokeWidth": 1.8}, "encoding": {"theta": {"field": "t", "type": "quantitative", "stack": null, "scale": {"type": "linear", "domain": [0, 360], "range": [1.5708, -4.7124], "nice": false, "zero": false}}, "theta2": {"field": "t"}, "radius": {"datum": 0.3075, "type": "quantitative", "scale": {"type": "linear", "domain": [0, 0.3], "range": [0, 740], "nice": false, "zero": true}}}},
  {"data": {"name": "flab"}, "mark": {"type": "text", "font": "Liberation Serif", "fontSize": 23, "lineHeight": 15.7, "lineBreak": "\n", "align": "center", "baseline": "middle", "color": "#1a1a1a"}, "encoding": {"theta": {"field": "t", "type": "quantitative", "stack": null, "scale": {"type": "linear", "domain": [0, 360], "range": [1.5708, -4.7124], "nice": false, "zero": false}}, "radius": {"datum": 0.321, "type": "quantitative", "scale": {"type": "linear", "domain": [0, 0.3], "range": [0, 740], "nice": false, "zero": true}}, "text": {"field": "lab"}}},
  {"data": {"name": "plab"}, "mark": {"type": "text", "font": "Liberation Serif", "fontSize": 23, "align": "center", "baseline": "middle", "color": "#1a1a1a"}, "encoding": {"theta": {"field": "t", "type": "quantitative", "stack": null, "scale": {"type": "linear", "domain": [0, 360], "range": [1.5708, -4.7124], "nice": false, "zero": false}}, "radius": {"datum": 0.3135, "type": "quantitative", "scale": {"type": "linear", "domain": [0, 0.3], "range": [0, 740], "nice": false, "zero": true}}, "text": {"field": "lab"}}},
  {"data": {"name": "rlab"}, "mark": {"type": "text", "font": "Liberation Serif", "fontSize": 23, "align": "center", "baseline": "middle", "dy": 37, "color": "#2a3a5a"}, "encoding": {"theta": {"datum": 0, "type": "quantitative", "scale": {"type": "linear", "domain": [0, 360], "range": [1.5708, -4.7124], "nice": false, "zero": false}}, "radius": {"field": "r", "type": "quantitative", "stack": null, "scale": {"type": "linear", "domain": [0, 0.3], "range": [0, 740], "nice": false, "zero": true}}, "text": {"field": "lab"}}},
  {"data": {"name": "ring"}, "mark": {"type": "text", "text": "◇", "font": "DejaVu Sans", "fontSize": 36, "fill": "#ff0000", "stroke": "#ff0000", "strokeWidth": 1, "align": "center", "baseline": "middle"}, "encoding": {"theta": {"field": "t", "type": "quantitative", "stack": null, "scale": {"type": "linear", "domain": [0, 360], "range": [1.5708, -4.7124], "nice": false, "zero": false}}, "radius": {"field": "c", "type": "quantitative", "stack": null, "scale": {"type": "linear", "domain": [0, 0.3], "range": [0, 740], "nice": false, "zero": true}}}}
 ]},
{"width": 1700, "height": 1758, "title": {"text": "(d)", "font": "Liberation Serif", "fontWeight": "bold"},
 "layer": [
  {"data": {"name": "gc"}, "mark": {"type": "arc", "filled": false, "stroke": "#c6c6c6", "strokeWidth": 2, "theta": 0, "theta2": 6.2832}, "encoding": {"radius": {"field": "r", "type": "quantitative", "stack": null, "scale": {"type": "linear", "domain": [0, 0.3], "range": [0, 740], "nice": false, "zero": true}}}},
  {"data": {"name": "g32"}, "mark": {"type": "arc", "filled": false, "stroke": "#c6c6c6", "strokeWidth": 2}, "encoding": {"theta": {"field": "t", "type": "quantitative", "stack": null, "scale": {"type": "linear", "domain": [0, 360], "range": [1.5708, -4.7124], "nice": false, "zero": false}}, "theta2": {"field": "t"}, "radius": {"datum": 0.3, "type": "quantitative", "scale": {"type": "linear", "domain": [0, 0.3], "range": [0, 740], "nice": false, "zero": true}}}},
  {"data": {"name": "bc"}, "mark": {"type": "arc", "filled": false, "stroke": "#000000", "strokeWidth": 1.8, "theta": 0, "theta2": 6.2832}, "encoding": {"radius": {"field": "r", "type": "quantitative", "stack": null, "scale": {"type": "linear", "domain": [0, 0.3], "range": [0, 740], "nice": false, "zero": true}}}},
  {"data": {"name": "blue"}, "mark": {"type": "arc", "filled": false, "stroke": "#0000ff", "strokeWidth": 3.5, "theta": 0, "theta2": 6.2832}, "encoding": {"radius": {"field": "r", "type": "quantitative", "stack": null, "scale": {"type": "linear", "domain": [0, 0.3], "range": [0, 740], "nice": false, "zero": true}}}},
  {"data": {"name": "g32"}, "mark": {"type": "arc", "filled": false, "stroke": "#000000", "strokeWidth": 1.8}, "encoding": {"theta": {"field": "t", "type": "quantitative", "stack": null, "scale": {"type": "linear", "domain": [0, 360], "range": [1.5708, -4.7124], "nice": false, "zero": false}}, "theta2": {"field": "t"}, "radius": {"datum": 0.3055, "type": "quantitative", "scale": {"type": "linear", "domain": [0, 0.3], "range": [0, 740], "nice": false, "zero": true}}, "radius2": {"datum": 0.3}}},
  {"data": {"name": "ax8"}, "mark": {"type": "arc", "filled": false, "stroke": "#000000", "strokeWidth": 1.8}, "encoding": {"theta": {"field": "t", "type": "quantitative", "stack": null, "scale": {"type": "linear", "domain": [0, 360], "range": [1.5708, -4.7124], "nice": false, "zero": false}}, "theta2": {"field": "t"}, "radius": {"datum": 0.3075, "type": "quantitative", "scale": {"type": "linear", "domain": [0, 0.3], "range": [0, 740], "nice": false, "zero": true}}}},
  {"data": {"name": "flab"}, "mark": {"type": "text", "font": "Liberation Serif", "fontSize": 23, "lineHeight": 15.7, "lineBreak": "\n", "align": "center", "baseline": "middle", "color": "#1a1a1a"}, "encoding": {"theta": {"field": "t", "type": "quantitative", "stack": null, "scale": {"type": "linear", "domain": [0, 360], "range": [1.5708, -4.7124], "nice": false, "zero": false}}, "radius": {"datum": 0.321, "type": "quantitative", "scale": {"type": "linear", "domain": [0, 0.3], "range": [0, 740], "nice": false, "zero": true}}, "text": {"field": "lab"}}},
  {"data": {"name": "plab"}, "mark": {"type": "text", "font": "Liberation Serif", "fontSize": 23, "align": "center", "baseline": "middle", "color": "#1a1a1a"}, "encoding": {"theta": {"field": "t", "type": "quantitative", "stack": null, "scale": {"type": "linear", "domain": [0, 360], "range": [1.5708, -4.7124], "nice": false, "zero": false}}, "radius": {"datum": 0.3135, "type": "quantitative", "scale": {"type": "linear", "domain": [0, 0.3], "range": [0, 740], "nice": false, "zero": true}}, "text": {"field": "lab"}}},
  {"data": {"name": "rlab"}, "mark": {"type": "text", "font": "Liberation Serif", "fontSize": 23, "align": "center", "baseline": "middle", "dy": 37, "color": "#2a3a5a"}, "encoding": {"theta": {"datum": 0, "type": "quantitative", "scale": {"type": "linear", "domain": [0, 360], "range": [1.5708, -4.7124], "nice": false, "zero": false}}, "radius": {"field": "r", "type": "quantitative", "stack": null, "scale": {"type": "linear", "domain": [0, 0.3], "range": [0, 740], "nice": false, "zero": true}}, "text": {"field": "lab"}}},
  {"data": {"name": "ring"}, "mark": {"type": "text", "text": "◇", "font": "DejaVu Sans", "fontSize": 29, "fill": "#ff2020", "stroke": "#ff2020", "strokeWidth": 0.6, "opacity": 0.8, "align": "center", "baseline": "middle"}, "encoding": {"theta": {"field": "t", "type": "quantitative", "stack": null, "scale": {"type": "linear", "domain": [0, 360], "range": [1.5708, -4.7124], "nice": false, "zero": false}}, "radius": {"field": "d", "type": "quantitative", "stack": null, "scale": {"type": "linear", "domain": [0, 0.3], "range": [0, 740], "nice": false, "zero": true}}}},
  {"data": {"name": "ring"}, "mark": {"type": "text", "text": "◇", "font": "DejaVu Sans", "fontSize": 29, "fill": "#ff2020", "stroke": "#ff2020", "strokeWidth": 0.6, "opacity": 0.8, "align": "center", "baseline": "middle"}, "encoding": {"theta": {"field": "v", "type": "quantitative", "stack": null, "scale": {"type": "linear", "domain": [0, 360], "range": [1.5708, -4.7124], "nice": false, "zero": false}}, "radius": {"field": "d", "type": "quantitative", "stack": null, "scale": {"type": "linear", "domain": [0, 0.3], "range": [0, 740], "nice": false, "zero": true}}}},
  {"data": {"name": "ctr"}, "mark": {"type": "text", "text": "◇", "font": "DejaVu Sans", "fontSize": 34, "fill": "#ff0000", "stroke": "#ff0000", "strokeWidth": 1.5, "align": "center", "baseline": "middle"}, "encoding": {"theta": {"field": "t", "type": "quantitative", "stack": null, "scale": {"type": "linear", "domain": [0, 360], "range": [1.5708, -4.7124], "nice": false, "zero": false}}, "radius": {"field": "r", "type": "quantitative", "stack": null, "scale": {"type": "linear", "domain": [0, 0.3], "range": [0, 740], "nice": false, "zero": true}}}}
 ]}
]
}
